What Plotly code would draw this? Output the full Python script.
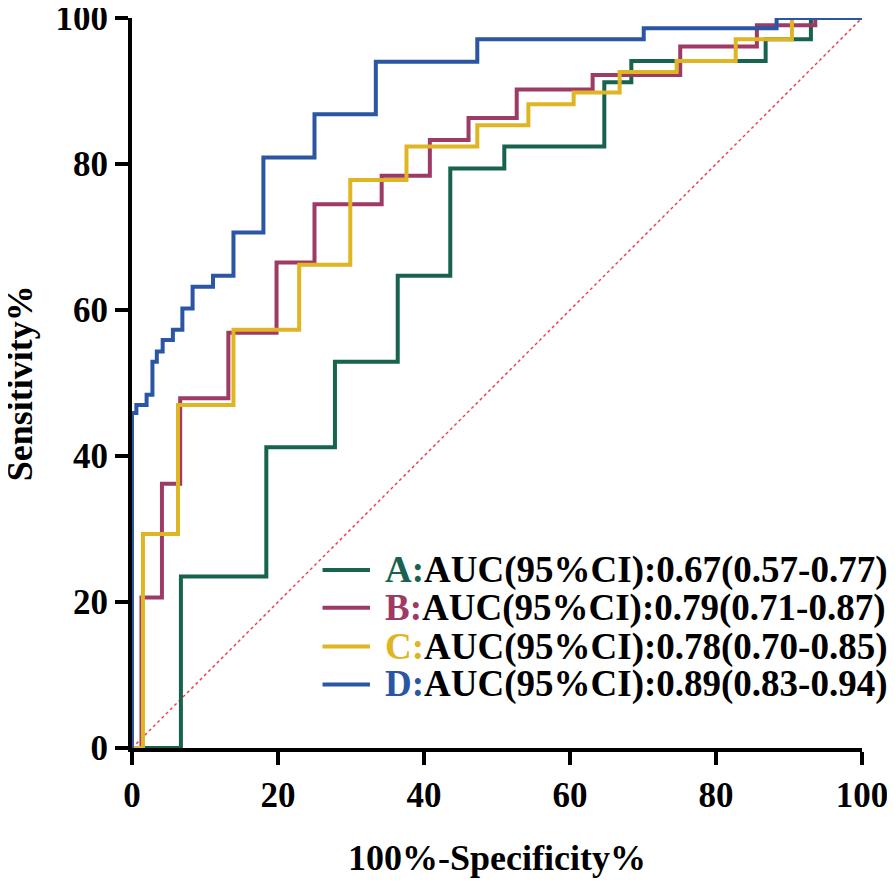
import plotly.graph_objects as go

# ROC step curves (x = 100%-Specificity%, y = Sensitivity%)
fpr_a = [0, 6.7, 18.4, 27.8, 36.4, 43.6, 51.0, 64.7, 68.4, 86.8, 93.0, 100]
tpr_a = [0, 23.5, 41.2, 52.9, 64.7, 79.4, 82.4, 91.2, 94.1, 97.1, 100, 100]

fpr_b = [0, 1.3, 4.1, 6.6, 13.2, 19.8, 25.0, 34.2, 40.8, 46.1, 52.7, 63.1, 75.1, 85.6, 93.6, 100]
tpr_b = [0, 20.6, 36.2, 47.9, 56.9, 66.5, 74.5, 78.4, 83.3, 86.3, 90.2, 92.2, 96.1, 99.0, 100, 100]

fpr_c = [0, 1.5, 6.3, 13.9, 22.9, 29.9, 37.6, 47.3, 54.3, 60.5, 66.8, 74.6, 82.7, 90.4, 100]
tpr_c = [0, 29.3, 47.0, 57.3, 66.2, 77.8, 82.4, 85.3, 88.2, 89.8, 92.6, 94.1, 97.1, 100, 100]

fpr_d = [0, 0, 0.6, 2.0, 2.8, 3.4, 4.2, 5.6, 6.9, 8.3, 11.1, 13.9, 18.0, 25.0, 33.4, 47.3, 70.1, 88.3, 100]
tpr_d = [0, 45.9, 47.0, 48.4, 52.9, 54.3, 55.9, 57.3, 60.2, 63.2, 64.7, 70.6, 80.9, 86.8, 94.0, 97.1, 98.6, 100, 100]

ref_line = [0, 100]

models = ["A", "B", "C", "D"]
auc = ["0.67", "0.79", "0.78", "0.89"]
ci_low = ["0.57", "0.71", "0.70", "0.83"]
ci_high = ["0.77", "0.87", "0.85", "0.94"]
colors = ["#17634F", "#9D3A65", "#DFB523", "#2B56A3"]

ticks = [0, 20, 40, 60, 80, 100]

FONT = "Liberation Serif, Times New Roman, serif"

fig = go.Figure()

fig.add_trace(go.Scatter(x=ref_line, y=ref_line, mode="lines",
                         line=dict(color="#E5474F", width=1.5, dash="dot"),
                         showlegend=False, hoverinfo="skip"))

curves = [(fpr_a, tpr_a), (fpr_b, tpr_b), (fpr_c, tpr_c), (fpr_d, tpr_d)]
for (fx, ty), col, name in zip(curves, colors, models):
    fig.add_trace(go.Scatter(x=fx, y=ty, mode="lines", name=name,
                             line=dict(color=col, width=4, shape="hv"),
                             cliponaxis=False, showlegend=False))

# legend drawn by hand so rows can sit as tight as in the original
row_y = [0.244, 0.192, 0.139, 0.087]
for i, name in enumerate(models):
    fig.add_shape(type="line", xref="paper", yref="paper",
                  x0=0.261, x1=0.326, y0=row_y[i], y1=row_y[i],
                  line=dict(color=colors[i], width=4))
    txt = (f"<span style='color:{colors[i]}'>{name}:</span>"
           f"AUC(95%CI):{auc[i]}({ci_low[i]}-{ci_high[i]})")
    fig.add_annotation(xref="paper", yref="paper", x=0.344, y=row_y[i],
                       xanchor="left", yanchor="middle", showarrow=False,
                       text=txt, font=dict(family=FONT, size=37, color="black", weight="bold"))

title_font = dict(family=FONT, size=36, color="black", weight="bold")
fig.add_annotation(xref="paper", yref="paper", x=0.5, y=-0.151,
                   xanchor="center", yanchor="middle", showarrow=False,
                   text="100%-Specificity%", font=title_font)
fig.add_annotation(xref="paper", yref="paper", x=-0.153, y=0.5,
                   xanchor="center", yanchor="middle", showarrow=False,
                   textangle=-90, text="Sensitivity%", font=title_font)

axis_common = dict(range=[0, 100], tickvals=ticks, ticks="outside", ticklen=13,
                   tickwidth=4, tickcolor="black", showline=True, linewidth=4,
                   linecolor="black", showgrid=False, zeroline=False,
                   layer="below traces", automargin=False,
                   ticklabeloverflow="allow",
                   tickfont=dict(family=FONT, size=35, color="black", weight="bold"))

fig.update_xaxes(**axis_common)
fig.update_yaxes(**axis_common)

# page body adds an 8px margin, so the figure is sized to fit the window
fig.update_layout(width=887, height=879,
                  margin=dict(l=124, r=33, t=10, b=139),
                  plot_bgcolor="white", paper_bgcolor="white",
                  font=dict(family=FONT, color="black", weight="bold"))

fig.write_html("out.html")
